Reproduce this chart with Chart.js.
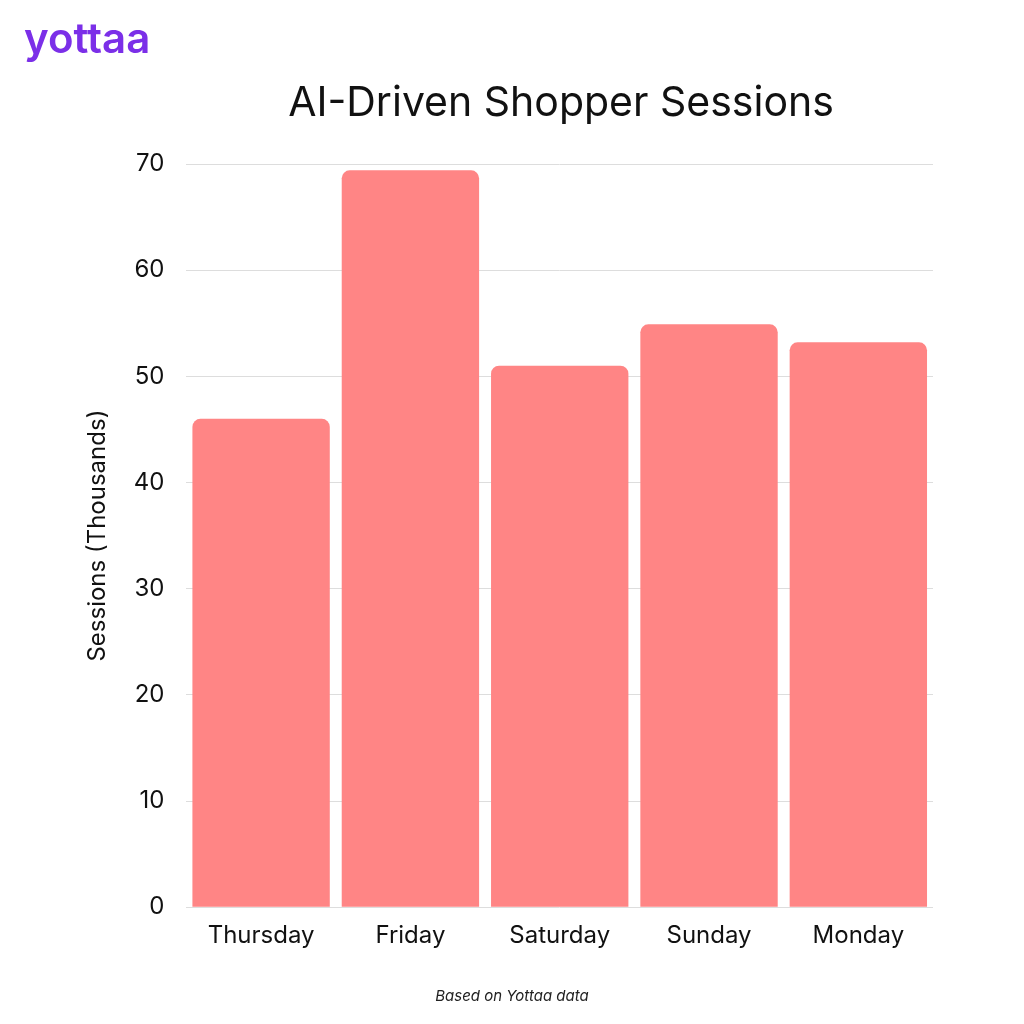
<!DOCTYPE html>
<html><head><meta charset="utf-8">
<script src="https://cdn.jsdelivr.net/npm/chart.js@4"></script>
<style>
html,body{margin:0;padding:0;background:#fff;}
#wrap{position:relative;width:1024px;height:1024px;}
#logo{position:absolute;left:24px;top:12px;font-family:Inter,sans-serif;font-weight:600;font-size:42px;color:#7b2fe8;}
#title{position:absolute;left:261px;width:600px;top:76px;text-align:center;font-family:Inter,sans-serif;font-size:41px;color:#111;}
#foot{position:absolute;left:0;width:1024px;top:986px;text-align:center;font-family:Inter,sans-serif;font-style:italic;font-size:15px;color:#222;}
canvas{position:absolute;left:0;top:0;}
</style></head><body>
<div id="wrap">
<canvas id="c" width="1024" height="1024"></canvas>
<div id="logo">yottaa</div>
<div id="title">AI-Driven Shopper Sessions</div>
<div id="foot">Based on Yottaa data</div>
</div>
<script>
const categories = ["Thursday","Friday","Saturday","Sunday","Monday"];
const sessions = [46, 69.4, 51, 54.9, 53.2];
const yTicks = [0,10,20,30,40,50,60,70];

new Chart(document.getElementById('c'), {
  type: 'bar',
  data: { labels: categories, datasets: [{ data: sessions, backgroundColor: '#ff8585',
    borderRadius: {topLeft: 8, topRight: 8}, borderSkipped: 'bottom',
    barPercentage: 0.92, categoryPercentage: 1 }] },
  options: {
    responsive: false, animation: false,
    layout: { padding: { left: 83, right: 91, top: 164, bottom: 68 } },
    plugins: { legend: { display: false }, tooltip: { enabled: false } },
    scales: {
      x: { grid: { display: false }, border: { display: false },
        ticks: { color: '#111', font: { family: 'Inter', size: 24 }, padding: 6 } },
      y: { min: 0, max: 70, afterBuildTicks: ax => { ax.ticks = yTicks.map(v => ({ value: v })); },
        grid: { color: '#dddddd', lineWidth: 1, drawTicks: false }, border: { display: false },
        ticks: { color: '#111', font: { family: 'Inter', size: 24 }, padding: 22 },
        title: { display: true, text: 'Sessions (Thousands)', color: '#111',
          font: { family: 'Inter', size: 24 }, padding: { top: 0, bottom: 0 } } }
    }
  }
});
</script>
</body></html>
